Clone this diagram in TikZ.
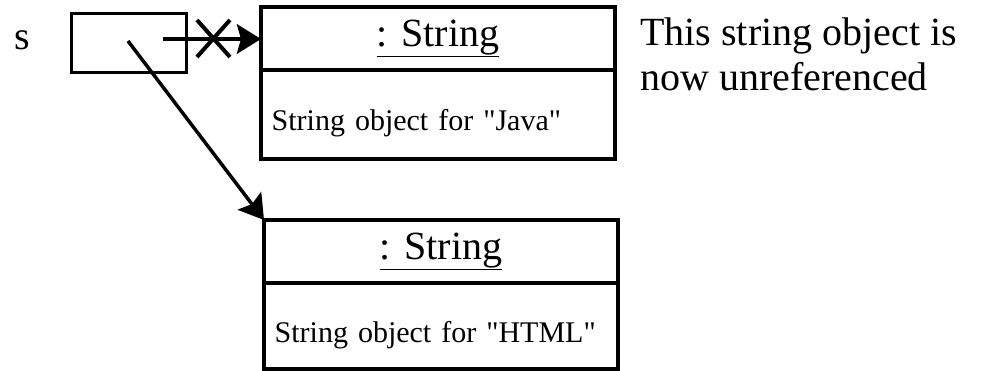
\documentclass[tikz,border=0pt]{standalone}
\usepackage{fontspec}
\setmainfont{Liberation Serif}
\usetikzlibrary{positioning,arrows.meta}
\newcommand{\bigtxt}{\fontsize{30}{34}\selectfont}
\newcommand{\smalltxt}{\fontsize{22.5}{26}\selectfont}

\begin{document}
\begin{tikzpicture}[x=0.75pt,y=-0.75pt,
  objhead/.style={draw,line width=2.5pt,outer sep=0pt,minimum width=265.5pt,minimum height=47.25pt,inner sep=0pt,font=\bigtxt},
  objbody/.style={draw,line width=2.5pt,outer sep=0pt,text width=249.5pt,inner xsep=8pt,inner ysep=0pt,
    text height=29pt,text depth=5pt,minimum height=66.75pt,align=left,font=\smalltxt},
  refline/.style={line width=2.6pt,-{Stealth[length=18pt,width=22pt,inset=3pt]}}]
\useasboundingbox (0,0) rectangle (982,371);
\node[draw,line width=2.2pt,minimum width=86pt,minimum height=44.5pt,inner sep=0pt,anchor=north west] (refbox) at (70,12) {};
\node[font=\bigtxt] (s) at (22,40) {s};
\node[objhead,anchor=north west] (javahead) at (261,7) {\underline{: String}};
\node[objbody,below=0pt of javahead] (javabody) {String object for \textquotedbl Java\textquotedbl};
\node[objhead,anchor=north west] (htmlhead) at (264,220) {\underline{: String}};
\node[objbody,below=0pt of htmlhead,minimum height=64.5pt] (htmlbody) {String object for \textquotedbl HTML\textquotedbl};
\node[font=\bigtxt,align=left,anchor=north west,inner sep=0pt] (note) at (640,17) {This string object is\\now unreferenced};
% old reference, crossed out
\coordinate (start) at (163,39);
\draw[refline,line width=3.4pt] (start) -- (javahead.west |- start) coordinate[pos=0.52] (cut);
\draw[line width=3pt] ([shift={(-17,-19)}]cut) -- ([shift={(16,18)}]cut);
\draw[line width=3pt] ([shift={(16,-19)}]cut) -- ([shift={(-17,18)}]cut);
% new reference
\coordinate (from) at (128,41);
\draw[refline] (from) -- (htmlhead.north west);
\end{tikzpicture}
\end{document}
